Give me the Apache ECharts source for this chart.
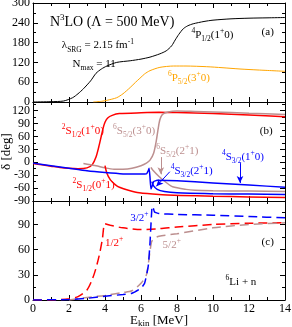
<!DOCTYPE html>
<html><head><meta charset="utf-8">
<script src="https://cdn.jsdelivr.net/npm/echarts@6/dist/echarts.min.js"></script>
<style>html,body{margin:0;padding:0;background:#fff}#c{width:292px;height:327px}</style>
</head><body><div id="c"></div>
<script>
// ---------- data ([E_kin MeV, degrees]) ----------
// panel (a)
const p12_10 = [[0,0],[1,1],[1.7,3],[2.2,13],[2.5,25],[2.8,40],[3.2,64],[3.5,87],[3.8,100],[4.1,109],[4.65,120],[5.4,125],[6.0,130],[6.5,136],[7.05,146],[7.4,155],[7.7,170],[7.9,188],[8.1,205],[8.35,222],[8.6,231],[8.9,237],[9.5,244],[10,248],[11,252],[12,254],[13,255],[14,256]];
const p52_30 = [[3.35,0],[3.8,2],[4.1,5],[4.65,13],[5.0,25],[5.4,44],[5.7,60],[5.94,72],[6.2,85],[6.5,95],[7.05,105],[7.8,109],[8.5,109],[9.65,107],[10.5,104],[11.5,100],[12.5,97],[14,93]];
// panel (b)
const s12_10 = [[0,-3],[0.5,-6],[1,-9],[1.5,-12],[2,-14],[2.5,-15],[3,-13],[3.3,-5],[3.5,12],[3.65,35],[3.8,62],[3.9,80],[4.0,93],[4.15,103],[4.4,109],[4.8,113],[6,115],[7,116],[8,115.5],[10,113],[12,110],[14,106]];
const s52_30 = [[2.8,-3],[3.2,-6],[3.5,-8],[4,-13],[4.5,-16],[5,-16],[5.5,-14],[6,-8],[6.3,-2],[6.5,5],[6.7,21],[6.85,50],[7.0,90],[7.1,105],[7.25,113],[7.5,117],[8,119],[9,118],[10,117],[12,114],[14,111]];
const s12_01 = [[4.0,-8],[4.1,-25],[4.3,-41],[4.6,-53],[4.8,-58],[5.3,-65],[5.9,-71],[7,-75],[8.2,-77],[10,-79],[12,-80.5],[14,-82]];
const s52_21 = [[6.55,-12],[6.65,-18],[7,-33],[7.4,-47],[7.76,-57],[8.5,-63],[9,-65],[10,-66],[12,-67],[14,-68]];
const s32_10 = [[0,-2],[1,-8],[2,-14],[3,-20],[4,-24],[5,-27],[6,-27.5],[6.3,-27],[6.4,-20],[6.45,-14],[6.5,-35],[6.55,-62],[6.62,-55],[6.7,-45],[6.9,-42],[8,-43],[10,-48],[12,-53],[14,-58]];
const s32_21 = [[6.6,-45],[6.7,-55],[6.9,-63],[7.3,-68],[8,-71],[10,-73],[12,-74],[14,-75]];
// panel (c) eigenphase sums
const sum12 = [[0,0],[1,0],[2,1.5],[2.5,4],[3,12],[3.3,25],[3.5,38],[3.7,55],[3.85,72],[4.0,91],[4.3,89],[5,86],[6,84],[7,85],[8,87],[10,90],[12,91.5],[14,92]];
const sum32 = [[0,0],[2,0.5],[3,2],[4,4.5],[5,6.5],[5.5,8],[6,14],[6.2,20],[6.4,40],[6.5,68],[6.6,108],[6.65,112],[6.75,105],[7,103],[8,102],[10,101],[12,99.5],[14,98]];
const sum52 = [[2,0],[3,3],[4,5.5],[5,9],[5.5,11],[6,20],[6.3,30],[6.5,58],[6.6,70],[6.8,74],[7,76],[8,79],[10,86],[12,90],[14,92]];

const RED='#ff0000', BLUE='#0000ff', BROWN='#bc8f8f', ORANGE='#ffa500';
const FONT='Liberation Serif';

const chart = echarts.init(document.getElementById('c'), null, {renderer:'canvas'});

const grids = [
  {left:33, width:252, top:3, height:99, outerBoundsMode:'none', containLabel:false},
  {left:33, width:252, top:102, height:99, outerBoundsMode:'none', containLabel:false},
  {left:33, width:252, top:201, height:99, outerBoundsMode:'none', containLabel:false}
];
const yRanges = [
  {min:0, max:300, interval:60},
  {min:-90, max:140, interval:30},
  {min:0, max:118, interval:30}
];
const blk = {color:'#000', width:1};
function xAx(g, pos, labels){
  return {type:'value', gridIndex:g, position:pos, min:0, max:14, interval:2,
    axisLine:{show:true, onZero:false, lineStyle:blk},
    axisTick:{show:true, inside:true, length:5, lineStyle:blk},
    minorTick:{show:true, splitNumber:2, length:3, lineStyle:blk},
    splitLine:{show:false},
    axisLabel:{show:labels, color:'#000', fontFamily:FONT, fontSize:12, margin:3, hideOverlap:false},
    name: labels ? '{m|E}{s|kin}{m| [MeV]}' : '', nameLocation:'middle', nameGap:14,
    nameMoveOverlap:false,
    nameTextStyle:{verticalAlign:'top', rich:{m:{fontFamily:FONT,fontSize:13,color:'#000',verticalAlign:'top',lineHeight:14},
      s:{fontFamily:FONT,fontSize:9,color:'#000',verticalAlign:'bottom',lineHeight:14}}}
  };
}
function yAx(g, pos, labels){
  const r = yRanges[g];
  return {type:'value', gridIndex:g, position:pos, min:r.min, max:r.max, interval:r.interval,
    axisLine:{show:true, onZero:false, lineStyle:blk},
    axisTick:{show:true, inside:true, length:5, lineStyle:blk},
    minorTick:{show:true, splitNumber:2, length:3, lineStyle:blk},
    splitLine:{show:false},
    axisLabel:{show:labels, color:'#000', fontFamily:FONT, fontSize:12, margin:3,
      showMinLabel:true, showMaxLabel:true, hideOverlap:false,
      formatter: v => (v % r.interval === 0 ? String(v) : '')},
    name: (labels && g===1) ? 'δ [deg]' : '', nameLocation:'middle', nameGap:20, nameRotate:90,
    nameMoveOverlap:false,
    nameTextStyle:{fontFamily:FONT, fontSize:13, color:'#000'}
  };
}
const xAxes=[], yAxes=[];
for(let g=0; g<3; g++){
  xAxes.push(xAx(g,'bottom', g===2));
  yAxes.push(yAx(g,'left', true));
}
for(let g=0; g<3; g++){
  xAxes.push(xAx(g,'top', false));
  yAxes.push(yAx(g,'right', false));
}

function line(g, data, color, width, dashed, extra){
  return Object.assign({type:'line', xAxisIndex:g, yAxisIndex:g, data:data, showSymbol:false, symbol:'none',
    smooth:0.25, animation:false, silent:true,
    lineStyle:{color:color, width:width, type: dashed ? [9,5] : 'solid'}}, extra||{});
}
function arrow(from, to, color){
  return {silent:true, symbol:['none','arrow'], symbolSize:[5,7], label:{show:false},
    lineStyle:{color:color, width:1, type:'solid'}, data:[[{coord:from},{coord:to}]]};
}

const series = [
  line(0, p12_10, '#000', 1),
  line(0, p52_30, ORANGE, 1),
  line(1, s12_10, RED, 1.5),
  line(1, s52_30, BROWN, 1.5),
  line(1, s12_01, RED, 1.5),
  line(1, s52_21, BROWN, 1.5, false, {markLine: arrow([7.1,12],[7.1,-28], BROWN)}),
  line(1, s32_10, BLUE, 1.5, false, {smooth:0.15, markLine: arrow([11.5,-2],[11.5,-48], BLUE)}),
  line(1, s32_21, BLUE, 1.5, false, {markLine: arrow([7.6,-22],[6.85,-56], BLUE)}),
  line(2, sum12, RED, 1.5, true),
  line(2, sum52, BROWN, 1.5, true),
  line(2, sum32, BLUE, 1.5, true, {smooth:0.15})
];

chart.setOption({
  backgroundColor:'#fff', animation:false,
  grid:grids, xAxis:xAxes, yAxis:yAxes, series:series
});

// ---------- text annotations anchored in data coordinates ----------
const rich = {
  m:{fontFamily:FONT, fontSize:11, lineHeight:16, verticalAlign:'middle'},
  big:{fontFamily:FONT, fontSize:14, lineHeight:18, verticalAlign:'middle'},
  bp:{fontFamily:FONT, fontSize:9, lineHeight:18, verticalAlign:'top'},
  p:{fontFamily:FONT, fontSize:7.5, lineHeight:16, verticalAlign:'top'},
  b:{fontFamily:FONT, fontSize:7.5, lineHeight:16, verticalAlign:'bottom'}
};
const notes = [
  {g:0, at:[0.94,242], c:'#000', t:'{big|N}{bp|3}{big|LO (Λ = 500 MeV)}'},
  {g:0, at:[1.6,171], c:'#000', t:'{m|λ}{b|SRG}{m| = 2.15 fm}{p|-1}'},
  {g:0, at:[2.2,116], c:'#000', t:'{m|N}{b|max}{m| = 11}'},
  {g:0, at:[8.8,202], c:'#000', t:'{p|4}{m|P}{b|1/2}{m|(1}{p|+}{m|0)}'},
  {g:0, at:[12.7,211], c:'#000', t:'{m|(a)}'},
  {g:0, at:[7.5,73], c:ORANGE, t:'{p|6}{m|P}{b|5/2}{m|(3}{p|+}{m|0)}'},
  {g:1, at:[12.6,73], c:'#000', t:'{m|(b)}'},
  {g:1, at:[1.6,73], c:RED, t:'{p|2}{m|S}{b|1/2}{m|(1}{p|+}{m|0)}'},
  {g:1, at:[4.45,73], c:BROWN, t:'{p|6}{m|S}{b|5/2}{m|(3}{p|+}{m|0)}'},
  {g:1, at:[2.2,-53], c:RED, t:'{p|2}{m|S}{b|1/2}{m|(0}{p|+}{m|1)}'},
  {g:1, at:[6.85,26], c:BROWN, t:'{p|6}{m|S}{b|5/2}{m|(2}{p|+}{m|1)}'},
  {g:1, at:[7.65,-20], c:BLUE, t:'{p|4}{m|S}{b|3/2}{m|(2}{p|+}{m|1)}'},
  {g:1, at:[10.5,12], c:BLUE, t:'{p|4}{m|S}{b|3/2}{m|(1}{p|+}{m|0)}'},
  {g:2, at:[12.7,69], c:'#000', t:'{m|(c)}'},
  {g:2, at:[10.7,21], c:'#000', t:'{p|6}{m|Li + n}'},
  {g:2, at:[4.0,68], c:RED, t:'{m|1/2}{p|+}'},
  {g:2, at:[5.4,98], c:BLUE, t:'{m|3/2}{p|+}'},
  {g:2, at:[7.2,66], c:BROWN, t:'{m|5/2}{p|+}'}
];
const graphic = notes.map(n => {
  const px = chart.convertToPixel({gridIndex:n.g}, n.at);
  const r = {};
  for (const k in rich) r[k] = Object.assign({}, rich[k], {fill:n.c});
  return {type:'text', x:px[0], y:px[1], silent:true,
    style:{text:n.t, rich:r, fill:n.c, align:'left', verticalAlign:'middle'}};
});
chart.setOption({graphic:graphic});
</script>
</body></html>
